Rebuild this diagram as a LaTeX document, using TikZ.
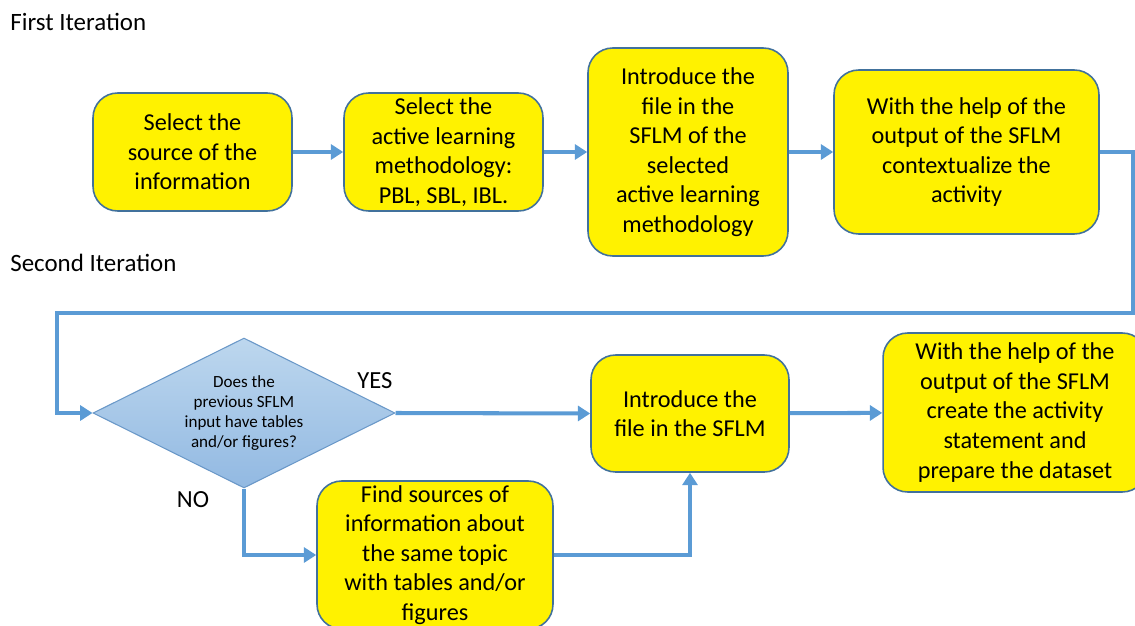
\documentclass[tikz,border=0pt]{standalone}
\usepackage{fontspec}
\setmainfont{Carlito}
\usetikzlibrary{shapes.geometric,arrows.meta}

\definecolor{boxline}{HTML}{41719C}
\definecolor{flowblue}{HTML}{5B9BD5}
\definecolor{decline}{HTML}{6A98C8}
\definecolor{dectop}{HTML}{BDD7EE}
\definecolor{decbot}{HTML}{92B9E2}

\tikzset{
  stepbox/.style={rectangle,rounded corners=14pt,draw=boxline,line width=0.9pt,
    fill=yellow,align=center,inner sep=2pt,
    font=\fontsize{13.8}{16.8}\selectfont},
  decision/.style={diamond,draw=decline,line width=0.6pt,top color=dectop,
    bottom color=decbot,aspect=2,inner sep=0pt,align=center,
    minimum width=6.04cm,minimum height=3cm,
    font=\fontsize{9.7}{11.4}\selectfont},
  flow/.style={draw=flowblue,line width=2.3pt,
    -{Triangle[length=7pt,width=8.5pt]}},
  heading/.style={anchor=west,inner sep=0pt,font=\fontsize{14.2}{16}\selectfont},
  answer/.style={font=\fontsize{14}{16}\selectfont}
}

\begin{document}
\begin{tikzpicture}[x=0.02cm,y=-0.02cm]
\useasboundingbox (0,0) rectangle (1135,625);

% First Iteration
\node[heading] (first) at (10,22) {First Iteration};
\node[stepbox,minimum width=3.98cm,minimum height=2.36cm] (source) at (192.5,152) {Select the\\source of the\\information};
\node[stepbox,minimum width=3.98cm,minimum height=2.36cm] (method) at (443.5,152) {Select the\\active learning\\methodology:\\PBL, SBL, IBL.};
\node[stepbox,minimum width=4cm,minimum height=4.16cm] (introsel) at (688,152) {Introduce the\\file in the\\SFLM of the\\selected\\active learning\\methodology};
\node[stepbox,minimum width=5.3cm,minimum height=3.28cm] (context) at (966.5,152) {With the help of the\\output of the SFLM\\contextualize the\\activity};

% Second Iteration
\node[heading] (second) at (10,263) {Second Iteration};
\node[decision] (check) at (244,413) {Does the\\previous SFLM\\input have tables\\and/or figures?};
\node[stepbox,minimum width=3.96cm,minimum height=2.34cm] (intro) at (690,413.5) {Introduce the\\file in the SFLM};
\node[stepbox,minimum width=5.28cm,minimum height=3.18cm] (create) at (1015,412.5) {With the help of the\\output of the SFLM\\create the activity\\statement and\\prepare the dataset};
\node[stepbox,minimum width=4.72cm,minimum height=2.96cm] (find) at (435,555) {Find sources of\\information about\\the same topic\\with tables and/or\\figures};
\node[answer] (yes) at (375,381) {YES};
\node[answer] (no) at (193,500) {NO};

% Loop corners
\coordinate (loopR) at (1133,313);
\coordinate (loopL) at (57,313);

% Arrows
\draw[flow] (source) -- (method);
\draw[flow] (method) -- (introsel);
\draw[flow] (introsel) -- (context);
\draw[flow] (context.east) -| (loopR) -- (loopL) |- (check.west);
\draw[flow] (check.east) -- (intro.west);
\draw[flow] (intro) -- (create);
\draw[flow] (check.south) |- (find.west);
\draw[flow] (find.east) -| (intro.south);
\end{tikzpicture}
\end{document}
